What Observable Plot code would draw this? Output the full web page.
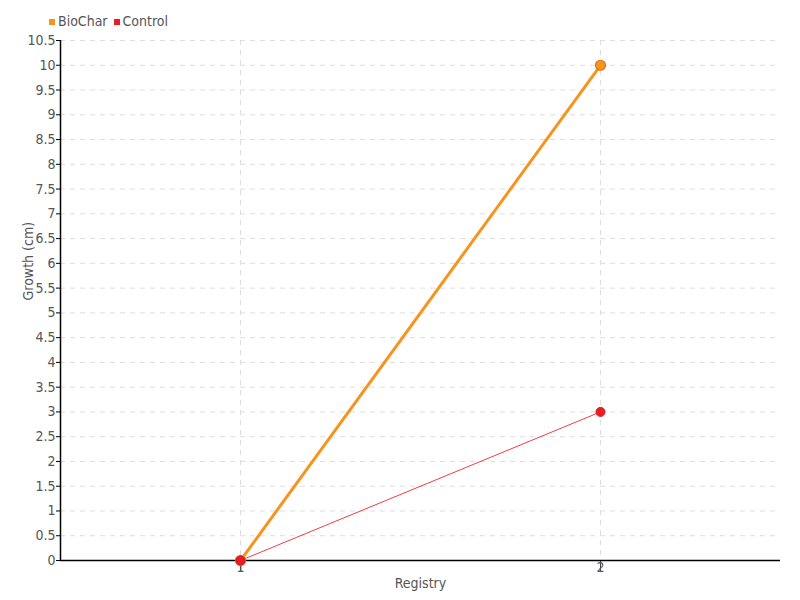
<!DOCTYPE html>
<html>
<head>
<meta charset="utf-8">
<script src="https://cdn.jsdelivr.net/npm/d3@7"></script>
<script src="https://cdn.jsdelivr.net/npm/@observablehq/plot@0.6"></script>
<style>
  body { margin: 0; background: #fff; font-family: "DejaVu Sans Condensed", Roboto, sans-serif; }
  #legend { height: 30px; display: flex; align-items: flex-start; padding-left: 49px; padding-top: 13px; box-sizing: border-box; font-size: 14px; line-height: 17px; color: #555; }
  .item { display: flex; align-items: center; margin-right: 6px; }
  .sw { width: 6px; height: 6px; margin-right: 3px; }
</style>
</head>
<body>
<div id="legend"></div>
<div id="chart"></div>
<script>
const registry = [1, 2];
const biochar = [0, 10];
const control = [0, 3];
const seriesNames = ["BioChar", "Control"];
const seriesColors = ["#f7941d", "#ed1c24"];
const yTicks = [0,0.5,1,1.5,2,2.5,3,3.5,4,4.5,5,5.5,6,6.5,7,7.5,8,8.5,9,9.5,10,10.5];
const xDomain = [0.5, 2.5];
const yDomain = [0, 10.5];

const rows = [];
registry.forEach((r, i) => {
  rows.push({x: r, y: biochar[i], s: "BioChar"});
  rows.push({x: r, y: control[i], s: "Control"});
});
const bio = rows.filter(d => d.s === "BioChar");
const ctl = rows.filter(d => d.s === "Control");

const legend = document.getElementById("legend");
seriesNames.forEach((n, i) => {
  const it = document.createElement("div");
  it.className = "item";
  it.innerHTML = `<span class="sw" style="background:${seriesColors[i]}"></span>${n}`;
  legend.appendChild(it);
});

const chart = Plot.plot({
  width: 800,
  height: 570,
  marginTop: 10,
  marginBottom: 40,
  marginLeft: 60,
  marginRight: 20,
  style: {fontFamily: '"DejaVu Sans Condensed", Roboto, sans-serif', fontSize: "14px", color: "#555", background: "#fff"},
  x: {domain: xDomain},
  y: {domain: yDomain},
  marks: [
    Plot.gridY(yTicks, {stroke: "#ddd", strokeOpacity: 1, strokeDasharray: "5,5"}),
    Plot.gridX(registry, {stroke: "#ddd", strokeOpacity: 1, strokeDasharray: "5,5"}),
    Plot.axisY(yTicks, {tickSize: 4, tickPadding: 1, tickFormat: d => String(d), label: null, stroke: "#000", fill: "#555"}),
    Plot.axisX(registry, {tickSize: 12, tickPadding: -10, tickFormat: d => String(d), label: null, stroke: "#444", fill: "#555"}),
    Plot.ruleX([xDomain[0]], {stroke: "#000", strokeWidth: 1.5}),
    Plot.ruleY([yDomain[0]], {stroke: "#000", strokeWidth: 1.5}),
    Plot.text(["Growth (cm)"], {frameAnchor: "left", dx: -32, rotate: -90, fill: "#555", fontSize: 14}),
    Plot.text(["Registry"], {frameAnchor: "bottom", dy: 27, fill: "#555", fontSize: 14}),
    Plot.line(ctl, {x: "x", y: "y", stroke: seriesColors[1], strokeWidth: 1, strokeOpacity: 0.85}),
    Plot.line(bio, {x: "x", y: "y", stroke: seriesColors[0], strokeWidth: 3}),
    Plot.dot(bio, {x: "x", y: "y", r: 5, fill: seriesColors[0], stroke: "#d9751a", strokeWidth: 1.2}),
    Plot.dot(ctl, {x: "x", y: "y", r: 4.5, fill: seriesColors[1], stroke: "#d01820", strokeWidth: 1})
  ]
});
document.getElementById("chart").appendChild(chart);
</script>
</body>
</html>
